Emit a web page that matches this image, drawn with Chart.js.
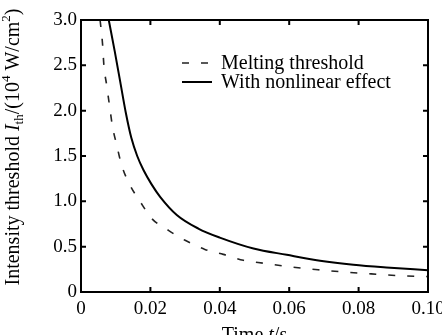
<!DOCTYPE html>
<html>
<head>
<meta charset="utf-8">
<script src="https://cdn.jsdelivr.net/npm/chart.js@4"></script>
<style>
  html, body { margin: 0; padding: 0; background: #fff; }
  #wrap { width: 442px; height: 335px; position: relative; }
</style>
</head>
<body>
<div id="wrap"><canvas id="chart" width="442" height="335"></canvas></div>
<script>
// time (s) and threshold intensity (10^4 W/cm^2)
const meltTime = [0.0055, 0.0062, 0.0066, 0.0074, 0.0082, 0.0091, 0.0103, 0.0117, 0.0141, 0.017, 0.0204, 0.0252, 0.030, 0.0357, 0.041, 0.0468, 0.0528, 0.0585, 0.0643, 0.07, 0.0758, 0.0816, 0.0873, 0.093, 0.1];
const meltValues = [3.0, 2.74, 2.5, 2.28, 2.06, 1.82, 1.62, 1.40, 1.18, 1.0, 0.81, 0.68, 0.57, 0.47, 0.415, 0.35, 0.316, 0.287, 0.26, 0.24, 0.22, 0.205, 0.19, 0.178, 0.17];

const nonlinTime = [0.0080, 0.0097, 0.0113, 0.0129, 0.0145, 0.0162, 0.018, 0.0203, 0.0228, 0.0276, 0.0338, 0.040, 0.0497, 0.0593, 0.0689, 0.0785, 0.088, 0.1];
const nonlinValues = [3.0, 2.66, 2.32, 1.98, 1.70, 1.50, 1.345, 1.19, 1.05, 0.85, 0.70, 0.60, 0.48, 0.41, 0.345, 0.30, 0.27, 0.24];

const seriesNames = ['Melting threshold', 'With nonlinear effect'];
const xTicks = [0, 0.02, 0.04, 0.06, 0.08, 0.10];
const yTicks = [0, 0.5, 1.0, 1.5, 2.0, 2.5, 3.0];

const FONT = '"Liberation Serif", "Times New Roman", serif';

function toPoints(xs, ys) {
    return xs.map((x, i) => ({ x: x, y: ys[i] }));
}

// frame, inward ticks, legend and axis titles
const decorPlugin = {
    id: 'decor',
    afterDraw(chart) {
        const ctx = chart.ctx;
        const a = chart.chartArea;
        const xs = chart.scales.x;
        const ys = chart.scales.y;
        ctx.save();
        ctx.strokeStyle = '#000';
        ctx.lineWidth = 2;
        ctx.strokeRect(a.left, a.top, a.right - a.left, a.bottom - a.top);

        ctx.beginPath();
        xTicks.forEach(v => {
            const px = xs.getPixelForValue(v);
            ctx.moveTo(px, a.bottom); ctx.lineTo(px, a.bottom - 5);
            ctx.moveTo(px, a.top); ctx.lineTo(px, a.top + 5);
        });
        yTicks.forEach(v => {
            const py = ys.getPixelForValue(v);
            ctx.moveTo(a.left, py); ctx.lineTo(a.left + 5, py);
            ctx.moveTo(a.right, py); ctx.lineTo(a.right - 5, py);
        });
        ctx.stroke();

        // legend
        const lx = 182, tx = 221;
        const rows = [63, 82];
        chart.data.datasets.forEach((ds, i) => {
            ctx.save();
            ctx.strokeStyle = ds.borderColor;
            ctx.lineWidth = ds.borderWidth;
            ctx.setLineDash(ds.borderDash || []);
            ctx.beginPath();
            ctx.moveTo(lx, rows[i]);
            ctx.lineTo(lx + 30, rows[i]);
            ctx.stroke();
            ctx.restore();
            ctx.fillStyle = '#000';
            ctx.font = '20px ' + FONT;
            ctx.textBaseline = 'middle';
            ctx.textAlign = 'left';
            ctx.fillText(ds.label, tx, rows[i] + 1);
        });

        // x title: Time t/s
        drawRich(ctx, [
            { t: 'Time ' }, { t: 't', it: true }, { t: '/s' }
        ], (a.left + a.right) / 2, 341, 20);

        // y title
        ctx.save();
        ctx.translate(19, 147);
        ctx.rotate(-Math.PI / 2);
        drawRich(ctx, [
            { t: 'Intensity threshold ' }, { t: 'I', it: true }, { t: 'th', sub: true },
            { t: '/(10' }, { t: '4', sup: true }, { t: ' W/cm' }, { t: '2', sup: true }, { t: ')' }
        ], 0, 0, 20);
        ctx.restore();
        ctx.restore();
    }
};

function drawRich(ctx, parts, cx, baseline, size) {
    const fontFor = p => {
        const s = (p.sub || p.sup) ? Math.round(size * 0.65) : size;
        return (p.it ? 'italic ' : '') + s + 'px ' + FONT;
    };
    let total = 0;
    parts.forEach(p => { ctx.font = fontFor(p); p.w = ctx.measureText(p.t).width; total += p.w; });
    let x = cx - total / 2;
    ctx.fillStyle = '#000';
    ctx.textAlign = 'left';
    ctx.textBaseline = 'alphabetic';
    parts.forEach(p => {
        ctx.font = fontFor(p);
        let y = baseline;
        if (p.sub) y += size * 0.2;
        if (p.sup) y -= size * 0.45;
        ctx.fillText(p.t, x, y);
        x += p.w;
    });
}

new Chart(document.getElementById('chart'), {
    type: 'line',
    data: {
        datasets: [{
            label: seriesNames[0],
            data: toPoints(meltTime, meltValues),
            borderColor: '#222',
            borderWidth: 1.6,
            borderDash: [7, 12],
            pointRadius: 0,
            cubicInterpolationMode: 'monotone',
            fill: false
        }, {
            label: seriesNames[1],
            data: toPoints(nonlinTime, nonlinValues),
            borderColor: '#000',
            borderWidth: 2,
            pointRadius: 0,
            cubicInterpolationMode: 'monotone',
            fill: false
        }]
    },
    options: {
        responsive: false,
        animation: false,
        events: [],
        layout: { padding: { top: 20, right: 14, left: 0, bottom: 0 } },
        plugins: { legend: { display: false }, tooltip: { enabled: false } },
        scales: {
            x: {
                type: 'linear',
                min: 0, max: 0.1,
                grid: { display: false, drawTicks: false },
                border: { display: false },
                afterBuildTicks: s => { s.ticks = xTicks.map(v => ({ value: v })); },
                afterFit: s => { s.height = 43; s.paddingLeft = 0; s.paddingRight = 0; },
                ticks: {
                    color: '#000',
                    font: { family: FONT, size: 19 },
                    padding: 6,
                    maxRotation: 0,
                    callback: v => v === 0 ? '0' : v.toFixed(2)
                }
            },
            y: {
                min: 0, max: 3,
                grid: { display: false, drawTicks: false },
                border: { display: false },
                afterBuildTicks: s => { s.ticks = yTicks.map(v => ({ value: v })); },
                afterFit: s => { s.width = 81; s.paddingTop = 0; s.paddingBottom = 0; },
                ticks: {
                    color: '#000',
                    font: { family: FONT, size: 19 },
                    padding: 4,
                    callback: v => v === 0 ? '0' : v.toFixed(1)
                }
            }
        }
    },
    plugins: [decorPlugin]
});
</script>
</body>
</html>
